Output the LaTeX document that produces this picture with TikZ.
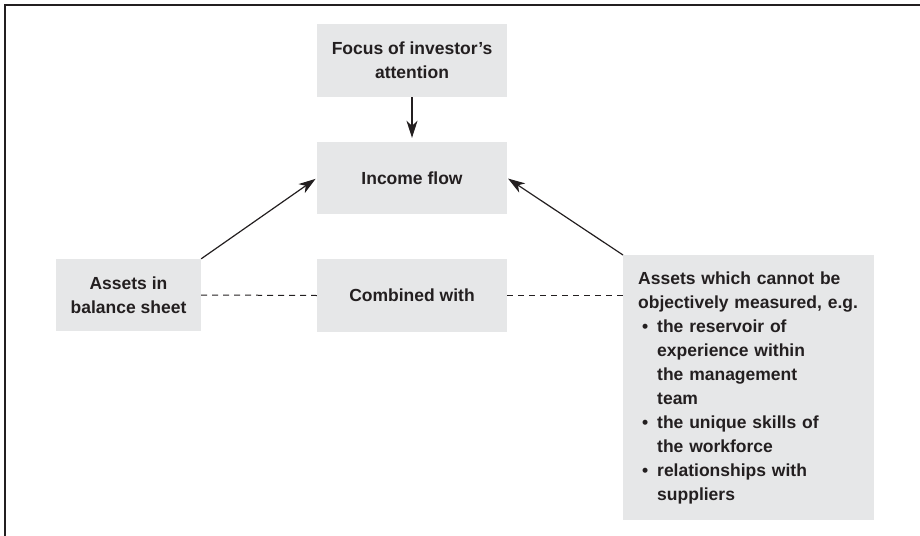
\documentclass[tikz,border=0pt]{standalone}
\usepackage{fontspec}
\setmainfont{Liberation Sans}
\usetikzlibrary{arrows.meta}
\definecolor{boxfill}{HTML}{E6E7E8}
\definecolor{ink}{HTML}{231F20}
\tikzset{
  box/.style={fill=boxfill, draw=none, text=ink, align=center,
    font=\fontsize{17.5}{24}\selectfont\bfseries, inner sep=0pt},
  arr/.style={draw=ink, line width=1.2pt, -{Stealth[length=17pt,width=11pt,inset=5pt]}},
  dashline/.style={draw=ink, line width=1pt, dash pattern=on 6pt off 5pt},
  frameline/.style={draw=ink, line width=2pt}
}
\begin{document}
\begin{tikzpicture}[x=1pt,y=-1pt]
\useasboundingbox (0,0) rectangle (920,535);
\coordinate (f1) at (5,536);
\coordinate (f2) at (5,5);
\coordinate (f3) at (921,5);
\draw[frameline] (f1) -- (f2) -- (f3);
\node[box, minimum width=190pt, minimum height=73pt] (focus) at (412,60.5) {Focus of investor’s\\attention};
\node[box, minimum width=190pt, minimum height=72pt] (inc) at (412,178) {Income flow};
\node[box, minimum width=190pt, minimum height=73pt] (comb) at (412,295.5) {Combined with};
\node[box, minimum width=145pt, minimum height=72pt] (lbox) at (128.5,295) {Assets in\\balance sheet};
\node[box, anchor=north west, minimum width=251pt, minimum height=265pt,
      text width=221pt, align=left, inner xsep=15pt, inner ysep=16pt] (rbox) at (623,255)
  {Assets which cannot be\\
   objectively measured, e.g.\\
   \makebox[19pt][l]{\hspace{4pt}•}the reservoir of\\
   \hspace*{19pt}experience within\\
   \hspace*{19pt}the management\\
   \hspace*{19pt}team\\
   \makebox[19pt][l]{\hspace{4pt}•}the unique skills of\\
   \hspace*{19pt}the workforce\\
   \makebox[19pt][l]{\hspace{4pt}•}relationships with\\
   \hspace*{19pt}suppliers};
\draw[arr, shorten >=4pt] (focus.south) -- (inc.north);
\draw[arr, shorten >=1.5pt] (lbox.north east) -- (inc.west);
\draw[arr, shorten >=1pt] (rbox.north west) -- (inc.east);
\draw[dashline] (lbox.east) -- (comb.west);
\draw[dashline] (comb.east) -- (comb.east -| rbox.west);
\end{tikzpicture}
\end{document}
